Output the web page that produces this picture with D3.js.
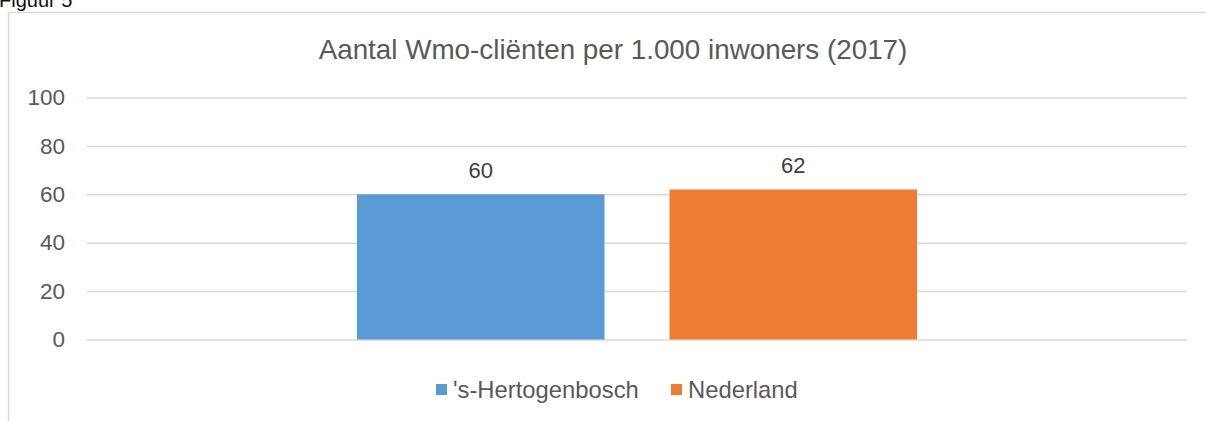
<!DOCTYPE html>
<html>
<head>
<meta charset="utf-8">
<script src="https://cdn.jsdelivr.net/npm/d3@7"></script>
<style>
  body { margin: 0; background: #fff; }
  svg { display: block; font-family: "Liberation Sans", Arial, sans-serif; }
</style>
</head>
<body>
<div class="canvas"></div>
<script>
// data
const categories = ['2017'];
const series = ["'s-Hertogenbosch", 'Nederland'];
const values = [60, 62];
const yTicks = [0, 20, 40, 60, 80, 100];
const colors = ['#5B9BD5', '#ED7D31'];

const dims = { width: 1206, height: 421 };
const plot = { left: 87, right: 1187, top: 97.5, bottom: 339.5 };

const svg = d3.select('.canvas').append('svg')
  .attr('width', dims.width)
  .attr('height', dims.height);

// caption above the chart box (cut off at the top, like the source)
svg.append('text')
  .attr('x', -1)
  .attr('y', 7)
  .attr('fill', '#111')
  .style('font-size', '20px')
  .text('Figuur 5');

// chart border (only top and left visible)
svg.append('path')
  .attr('d', `M8.5,${dims.height} V12.5 H${dims.width}`)
  .attr('fill', 'none')
  .attr('stroke', '#D9D9D9')
  .attr('stroke-width', 1.5);

// title
svg.append('text')
  .attr('x', 613)
  .attr('y', 59)
  .attr('text-anchor', 'middle')
  .attr('fill', '#595959')
  .style('font-size', '27.8px')
  .text('Aantal Wmo-cliënten per 1.000 inwoners (2017)');

// scales
const y = d3.scaleLinear()
  .domain([0, 100])
  .range([plot.bottom, plot.top]);

const x0 = d3.scaleBand()
  .domain(categories)
  .range([plot.left, plot.right])
  .paddingInner(0)
  .paddingOuter(0.482);

const x1 = d3.scaleBand()
  .domain(series)
  .range([0, x0.bandwidth()])
  .paddingInner(0.208);

// gridlines + tick labels
const yAxis = d3.axisLeft(y)
  .tickValues(yTicks)
  .tickSize(-(plot.right - plot.left))
  .tickPadding(22);

const gy = svg.append('g')
  .attr('transform', `translate(${plot.left},0)`)
  .call(yAxis);

gy.select('.domain').remove();
gy.selectAll('.tick line')
  .attr('stroke', '#D9D9D9')
  .attr('stroke-width', 1.5);
gy.selectAll('.tick text')
  .attr('fill', '#595959')
  .style('font-size', '22.5px')
  .style('font-family', '"Liberation Sans", Arial, sans-serif');

// bars
const barData = series.map((s, i) => ({ cat: categories[0], series: s, value: values[i], color: colors[i] }));

const bars = svg.append('g')
  .selectAll('g')
  .data(barData)
  .enter()
  .append('g');

bars.append('rect')
  .attr('x', d => x0(d.cat) + x1(d.series))
  .attr('y', d => y(d.value))
  .attr('width', x1.bandwidth())
  .attr('height', d => y(0) - y(d.value))
  .attr('fill', d => d.color);

// value labels
bars.append('text')
  .attr('x', d => x0(d.cat) + x1(d.series) + x1.bandwidth() / 2)
  .attr('y', d => y(d.value) - 16)
  .attr('text-anchor', 'middle')
  .attr('fill', '#404040')
  .style('font-size', '22px')
  .text(d => d.value);

// legend
const legendX = [436, 671];
const legend = svg.append('g')
  .selectAll('g')
  .data(barData)
  .enter()
  .append('g')
    .attr('transform', (d, i) => `translate(${legendX[i]}, 384)`);

legend.append('rect')
  .attr('width', 11)
  .attr('height', 11)
  .attr('fill', d => d.color);

legend.append('text')
  .attr('x', 17)
  .attr('y', 13.5)
  .attr('fill', '#595959')
  .style('font-size', '23.8px')
  .text(d => d.series);
</script>
</body>
</html>
